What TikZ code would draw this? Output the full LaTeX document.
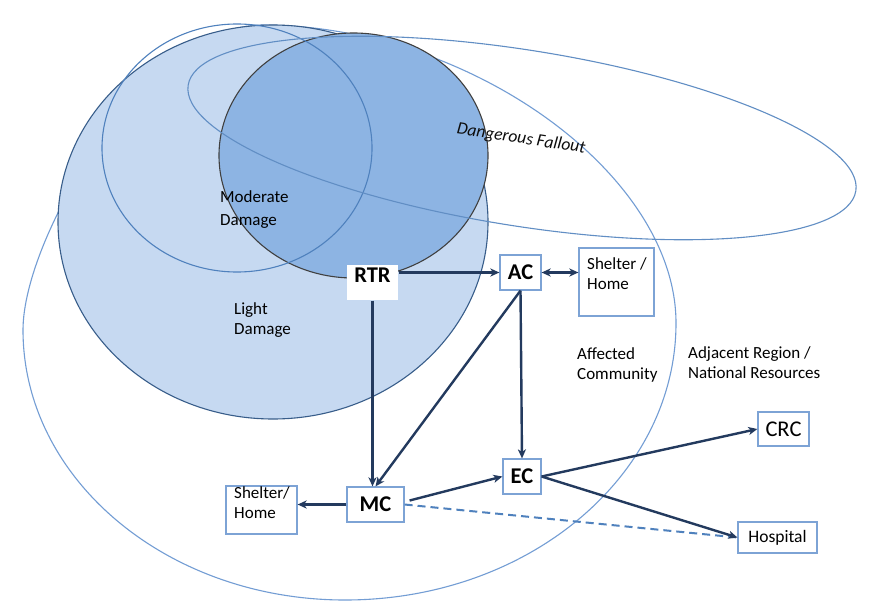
\documentclass[tikz,border=0pt]{standalone}
\usepackage{fontspec}
\setmainfont{Carlito}
\usetikzlibrary{arrows.meta}
\definecolor{lightfill}{RGB}{198,217,241}
\definecolor{darkfill}{RGB}{141,180,227}
\definecolor{edgeblue}{RGB}{56,93,138}
\definecolor{midblue}{RGB}{79,129,189}
\definecolor{thinblue}{RGB}{115,157,212}
\definecolor{boxblue}{RGB}{125,163,213}
\definecolor{arrowc}{RGB}{35,58,94}
\begin{document}
\begin{tikzpicture}[x=1pt,y=-1pt,
  >={Stealth[length=9pt,width=8pt,inset=2.5pt]},
  lbl/.style={inner sep=0pt, align=left, font=\fontsize{17}{20.5}\selectfont, anchor=north west},
  box/.style={draw=boxblue, line width=1.2pt, fill=white, inner sep=0pt},
  bnode/.style={box, font=\fontsize{22.5}{26}\selectfont\bfseries},
  conn/.style={draw=arrowc, line width=2.4pt},
  zone/.style={line width=1.1pt}
]
\fill[white] (0,0) rectangle (869,605);
\useasboundingbox (0,0) rectangle (869,605);

% Affected community (outer region)
\draw[zone, thinblue] (262,25) .. controls (469,25) and (676,174) .. (676,323)
  .. controls (676,476) and (528,600) .. (345,600)
  .. controls (167,600) and (23,479) .. (23,330)
  .. controls (23,235) and (150,25) .. (262,25) -- cycle;

% Light damage
\draw[zone, draw=edgeblue, fill=lightfill] (273,222) ellipse [x radius=215, y radius=197];
% Severe (dark) zone
\draw[zone, draw=black!75, fill=darkfill] (353.5,155.5) ellipse [x radius=134.5, y radius=122.5];
% Moderate damage
\draw[zone, midblue] (237,148) ellipse [x radius=135, y radius=124];
% Dangerous fallout
\draw[zone, midblue!90, rotate around={-9:(522,138)}] (522,138) ellipse [x radius=338, y radius=88];

\node[rotate=-8.5, font=\fontsize{17.5}{20}\selectfont\itshape, text=black!95, inner sep=0pt] (fallout) at (521,139) {Dangerous Fallout};

\node[lbl] (moderate) at (220,190) {Moderate\\[2.5pt]Damage};
\node[lbl] (light) at (234,302) {Light\\Damage};
\node[lbl] (affected) at (577,347) {Affected\\Community};
\node[lbl] (adjacent) at (688,346) {Adjacent Region /\\National Resources};

% Boxes
\node[bnode, draw=none, text height=17.2pt, text depth=17.8pt, minimum width=51pt] (rtr) at (372.5,282.5) {RTR};
\node[bnode, minimum width=41pt, minimum height=35pt] (ac) at (520.5,272.5) {AC};
\node[box, minimum width=75pt, minimum height=68pt] (sh1) at (616.5,282) {};
\node[lbl] (sh1t) at (587,257) {Shelter /\\Home};
\node[bnode, minimum width=57pt, minimum height=35pt] (mc) at (375.5,504.5) {MC};
\node[bnode, minimum width=38pt, minimum height=35pt] (ec) at (522,476.5) {EC};
\node[box, minimum width=71pt, minimum height=48pt] (sh2) at (261.5,510) {};
\node[lbl] (sh2t) at (234,486) {Shelter/\\Home};
\node[box, minimum width=51pt, minimum height=34pt, font=\fontsize{22.5}{26}\selectfont] (crc) at (783.5,429) {CRC};
\node[box, minimum width=79pt, minimum height=31pt, font=\fontsize{17.5}{21}\selectfont] (hosp) at (777.5,537.5) {Hospital};

% Connectors
\draw[midblue, line width=2pt, dash pattern=on 8pt off 5pt] (mc.east) -- (hosp.west);
\draw[conn,->] (rtr.east |- ac.west) -- (ac.west);
\draw[conn,<->] (ac.east) -- (ac.east -| sh1.west);
\draw[conn,->] (rtr.south) -- (rtr.south |- mc.north);
\draw[conn,->] (ac.south) -- (mc.north);
\draw[conn,->] (ac.south) -- (ec.north);
\draw[conn,->] (mc.west) -- (mc.west -| sh2.east);
\draw[conn,->] ([shift={(5pt,4pt)}]mc.east) -- (ec.west);
\draw[conn,->] (ec.east) -- (crc.west);
\draw[conn,->] (ec.east) -- (hosp.west);
\end{tikzpicture}
\end{document}
